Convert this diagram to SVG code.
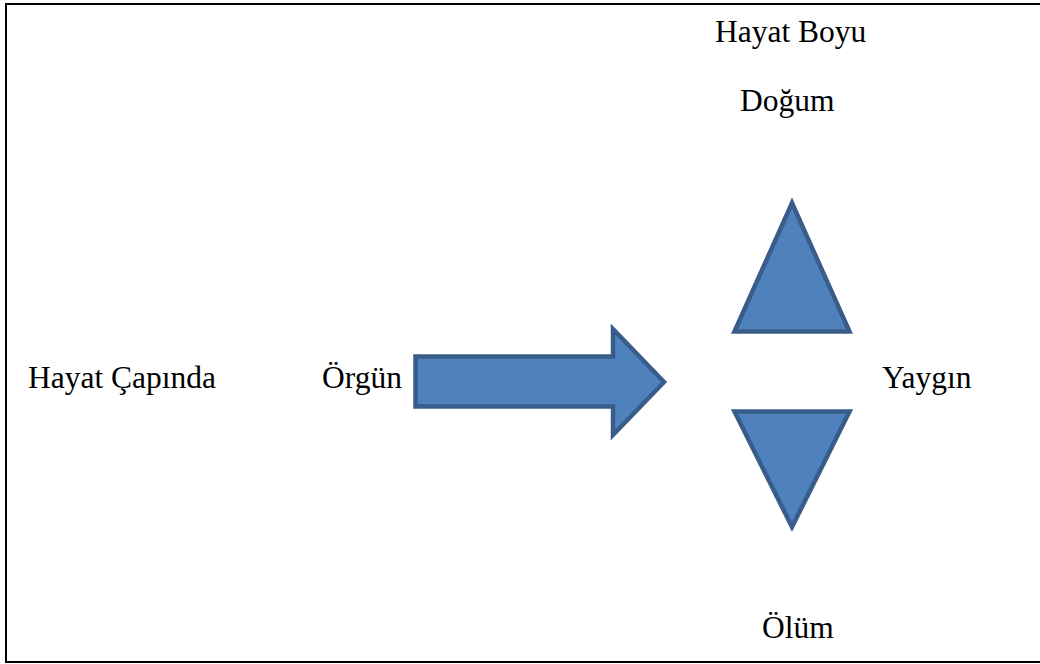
<svg xmlns="http://www.w3.org/2000/svg" width="1040" height="664" viewBox="0 0 1040 664">
<style>
.t{font-family:"Liberation Serif","Times New Roman",serif;font-size:31.5px;fill:#000}
.s{fill:#4f81bd;stroke:#385d8a;stroke-width:4.5;stroke-linejoin:miter}
</style>
<rect x="0" y="0" width="1040" height="664" fill="#fff"/>
<rect x="6" y="4" width="1040" height="658" fill="none" stroke="#000" stroke-width="2"/>
<g id="hayat-capinda"><text class="t" x="28" y="388">Hayat Çapında</text></g>
<g id="orgun"><text class="t" x="322" y="388">Örgün</text></g>
<g id="yaygin"><text class="t" x="882" y="388">Yaygın</text></g>
<g id="hayat-boyu"><text class="t" x="715" y="42">Hayat Boyu</text></g>
<g id="dogum"><text class="t" x="740" y="111">Doğum</text></g>
<g id="olum"><text class="t" x="762" y="638">Ölüm</text></g>
<g id="arrow"><path class="s" d="M415.5,356.5 L613,356.5 L613,329 L664,382 L613,435 L613,406.5 L415.5,406.5 Z"/></g>
<g id="up-triangle"><path class="s" d="M792,203 L849.5,331.5 L734.5,331.5 Z"/></g>
<g id="down-triangle"><path class="s" d="M734.5,411.5 L849.5,411.5 L792,527 Z"/></g>
<g id="connectors"></g>
</svg>
